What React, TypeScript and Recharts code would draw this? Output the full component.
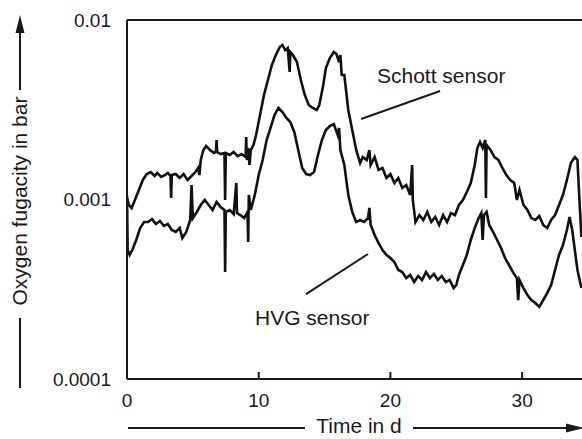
import React from "react";
import { LineChart, Line, XAxis, YAxis, ReferenceLine, ReferenceDot } from "recharts";

// Time in days
const schottTime = [
  0, 0.15, 0.35, 0.6, 0.9, 1.2, 1.5, 1.8, 2.1, 2.3, 2.6, 2.9, 3.1, 3.3, 3.35, 3.4, 3.7, 4.0, 4.3, 4.6, 4.9,
  5.2, 5.4, 5.5, 5.6, 5.8, 6.0, 6.3, 6.6, 6.75, 6.8, 6.85, 7.1, 7.4, 7.45, 7.5, 7.8, 8.1, 8.4, 8.7, 9.0,
  9.05, 9.1, 9.2, 9.3, 9.4, 9.6, 9.8, 10.1, 10.4, 10.7, 11.0, 11.3, 11.6, 11.8, 12.0, 12.2, 12.35, 12.4,
  12.6, 12.9, 13.2, 13.5, 13.8, 14.1, 14.4, 14.6, 14.9, 15.1, 15.4, 15.7, 15.9, 16.1, 16.2, 16.3, 16.5,
  16.8, 17.1, 17.4, 17.7, 17.9, 18.2, 18.4, 18.5, 18.8, 19.1, 19.4, 19.7, 20.0, 20.3, 20.6, 20.9, 21.2,
  21.5, 21.65, 21.7, 21.9, 22.2, 22.5, 22.8, 23.1, 23.4, 23.7, 24.0, 24.3, 24.6, 24.9, 25.2, 25.5, 25.8,
  26.1, 26.4, 26.6, 26.8, 27.0, 27.2, 27.25, 27.3, 27.6, 27.9, 28.2, 28.5, 28.8, 29.1, 29.4, 29.6, 29.8,
  30.1, 30.4, 30.7, 31.0, 31.3, 31.6, 31.9, 32.2, 32.5, 32.8, 33.1, 33.4, 33.7, 34.0, 34.2, 34.35, 34.5,
];
// Oxygen fugacity in bar (Schott sensor)
const schottValues = [
  0.00102, 0.000932, 0.000897, 0.000994, 0.00113, 0.001285, 0.001387, 0.001423, 0.001352, 0.001405, 0.001335,
  0.001369, 0.001405, 0.001352, 0.00102, 0.001369, 0.001387, 0.001318, 0.001387, 0.001285, 0.001352,
  0.001423, 0.001498, 0.001369, 0.00166, 0.001887, 0.001986, 0.001887, 0.001815, 0.001839, 0.002145, 0.001839,
  0.001792, 0.001815, 0.000994, 0.001815, 0.001769, 0.001839, 0.001746, 0.001792, 0.001724,
  0.002229, 0.00166, 0.001936, 0.001557, 0.001887, 0.002012, 0.002287, 0.002957, 0.003822, 0.004632, 0.005615,
  0.006383, 0.007072, 0.007257, 0.006806, 0.006982, 0.005132, 0.006634,
  0.006383, 0.005834, 0.004632, 0.003822, 0.003361, 0.003234, 0.003152, 0.003361, 0.004344, 0.005403,
  0.006141, 0.006634, 0.006466, 0.005834, 0.006383, 0.004938, 0.004938,
  0.003152, 0.002439, 0.001887, 0.001597, 0.001724, 0.00166, 0.001887, 0.001557, 0.001724, 0.00146,
  0.001498, 0.001318, 0.001387, 0.001236, 0.001318, 0.001159, 0.001205,
  0.00106, 0.001557, 0.000994, 0.000749, 0.000819, 0.000769, 0.000852, 0.000749, 0.000799, 0.000721,
  0.000819, 0.000749, 0.000841, 0.000819, 0.000932, 0.000994, 0.001101,
  0.001236, 0.001557, 0.001936, 0.002091, 0.001936, 0.002145, 0.00102, 0.002012, 0.001887, 0.001724,
  0.00166, 0.001498, 0.001369, 0.001285, 0.001236, 0.000994, 0.00113,
  0.000932, 0.000874, 0.000788, 0.000769, 0.000809, 0.000721, 0.000694, 0.000769, 0.000819, 0.000932,
  0.00106, 0.001285, 0.001597, 0.001724, 0.00166, 0.000994, 0.000618,
];

const hvgTime = [
  0, 0.05, 0.2, 0.4, 0.7, 1.0, 1.3, 1.6, 1.9, 2.2, 2.5, 2.8, 3.1, 3.4, 3.7, 4.0, 4.2, 4.5, 4.8, 4.9, 5.0,
  5.3, 5.6, 5.9, 6.2, 6.5, 6.8, 7.1, 7.4, 7.45, 7.5, 7.8, 8.1, 8.3, 8.35, 8.6, 8.9, 9.15, 9.2, 9.25, 9.4,
  9.7, 10.0, 10.3, 10.6, 10.9, 11.2, 11.5, 11.8, 12.1, 12.4, 12.7, 13.0, 13.3, 13.6, 13.9, 14.2, 14.5,
  14.8, 15.1, 15.4, 15.7, 16.0, 16.1, 16.2, 16.5, 16.8, 17.1, 17.4, 17.7, 18.0, 18.3, 18.4, 18.5, 18.8,
  19.1, 19.4, 19.7, 20.0, 20.3, 20.6, 20.9, 21.2, 21.5, 21.8, 22.1, 22.4, 22.7, 23.0, 23.3, 23.6, 23.9,
  24.2, 24.5, 24.8, 25.0, 25.2, 25.5, 25.8, 26.1, 26.4, 26.7, 26.9, 27.0, 27.1, 27.3, 27.5, 27.8, 28.1,
  28.4, 28.7, 29.0, 29.3, 29.6, 29.7, 29.8, 30.1, 30.4, 30.7, 31.0, 31.3, 31.6, 31.9, 32.2, 32.5, 32.8,
  33.1, 33.4, 33.6, 33.8, 34.0, 34.2, 34.5,
];
// Oxygen fugacity in bar (HVG sensor)
const hvgValues = [
  0.00106, 0.000523, 0.000491, 0.000523, 0.000595, 0.000694, 0.000749, 0.000749, 0.000778, 0.00073, 0.000759,
  0.000712, 0.00073, 0.000676, 0.000659, 0.000694, 0.00061, 0.000659, 0.000769, 0.001205, 0.000788,
  0.000852, 0.000932, 0.000994, 0.000932, 0.000874, 0.000968, 0.000908, 0.000874, 0.000394, 0.000852,
  0.000874, 0.00083, 0.001236, 0.000841, 0.000819, 0.000788, 0.000852, 0.00058, 0.00106, 0.000874,
  0.00106, 0.001369, 0.00166, 0.002145, 0.002503, 0.002957, 0.003234, 0.003073, 0.002845, 0.002703,
  0.002377, 0.001887, 0.001498, 0.001387, 0.001369, 0.001423, 0.001769,
  0.002145, 0.002439, 0.002568, 0.002634, 0.002287, 0.002503, 0.001887, 0.001557, 0.00106, 0.000852,
  0.000749, 0.000769, 0.000749, 0.000788, 0.000897, 0.000721, 0.000634,
  0.000572, 0.000523, 0.000491, 0.000472, 0.000448, 0.000405, 0.000394, 0.000365, 0.00038, 0.000347,
  0.000375, 0.000356, 0.000394, 0.000365, 0.000385, 0.000356, 0.000375,
  0.000347, 0.000356, 0.000321, 0.000334, 0.00038, 0.000432, 0.000491, 0.000595, 0.000694, 0.000788,
  0.000841, 0.000595, 0.000819, 0.000852, 0.000721, 0.000659, 0.000595,
  0.000537, 0.000472, 0.000432, 0.000394, 0.000365, 0.000275, 0.000356, 0.000321, 0.000294, 0.000275,
  0.000265, 0.000252, 0.000275, 0.000301, 0.000334, 0.000405, 0.000491,
  0.000558, 0.000676, 0.000799, 0.000676, 0.000523, 0.000405, 0.000321,
];

const xTicks = [0, 10, 20, 30];
const yTicks = [0.0001, 0.001, 0.01];
const yTickLabels = ["0.0001", "0.001", "0.01"];

const schottData = schottTime.map((t, i) => ({ t, v: schottValues[i] }));
const hvgData = hvgTime.map((t, i) => ({ t, v: hvgValues[i] }));

const FONT = '"Liberation Sans", Arial, Helvetica, sans-serif';
const INK = "#1a1a1a";
const Y_MIN = 0.0001;
const INNER_TICK_TOP = 0.0001094; // ~7px above the axis on the log scale

const textLabel = (text: string) => (props: any) => {
  const vb = props.viewBox || {};
  return (
    <text x={vb.x} y={vb.y} fontFamily={FONT} fontSize={21} fill={INK} textAnchor="start">
      {text}
    </text>
  );
};

const YTitle = () => (
  <g>
    <text
      transform="translate(27,201) rotate(-90)"
      textAnchor="middle"
      fontFamily={FONT}
      fontSize={21}
      fill={INK}
    >
      Oxygen fugacity in bar
    </text>
    <line x1={20} y1={318} x2={20} y2={388} stroke={INK} strokeWidth={2} />
    <line x1={20} y1={90} x2={20} y2={30} stroke={INK} strokeWidth={2} />
    <polygon points="15.5,33 20,15 24.5,33" fill={INK} />
  </g>
);

const XTitle = () => (
  <g>
    <text x={359} y={433} textAnchor="middle" fontFamily={FONT} fontSize={21} fill={INK}>
      Time in d
    </text>
    <line x1={128} y1={428} x2={305} y2={428} stroke={INK} strokeWidth={2} />
    <line x1={413} y1={428} x2={570} y2={428} stroke={INK} strokeWidth={2} />
    <polygon points="566,423.5 584,428 566,432.5" fill={INK} />
  </g>
);

export default function App() {
  return (
    <div
      style={{
        position: "fixed",
        left: 0,
        top: 0,
        width: 582,
        height: 439,
        overflow: "hidden",
        background: "#fff",
      }}
    >
      <LineChart width={600} height={439} margin={{ top: 20, right: 12, bottom: 0, left: 0 }}>
        <XAxis
          dataKey="t"
          type="number"
          domain={[0, 35]}
          ticks={xTicks}
          allowDataOverflow
          height={60}
          stroke={INK}
          strokeWidth={2}
          tickLine={false}
          tickSize={-7}
          tickMargin={22}
          tick={{ fill: INK, fontSize: 19, fontFamily: FONT }}
          label={{ content: XTitle }}
        />
        <YAxis
          dataKey="v"
          scale="log"
          type="number"
          domain={[0.0001, 0.01]}
          ticks={yTicks}
          allowDataOverflow
          width={127}
          stroke={INK}
          strokeWidth={2}
          tickLine={false}
          tickSize={0}
          tickMargin={16}
          tickFormatter={(v: number) => {
            const i = yTicks.findIndex((y) => Math.abs(y - v) / y < 1e-6);
            return i >= 0 ? yTickLabels[i] : "";
          }}
          tick={{ fill: INK, fontSize: 19, fontFamily: FONT }}
          label={{ content: YTitle }}
        />
        <ReferenceLine y={0.01} stroke={INK} strokeWidth={2} />
        {xTicks.slice(1).map((t) => (
          <ReferenceLine
            key={`tick-${t}`}
            segment={[
              { x: t, y: Y_MIN },
              { x: t, y: INNER_TICK_TOP },
            ]}
            stroke={INK}
            strokeWidth={2}
          />
        ))}
        <Line
          data={schottData}
          dataKey="v"
          type="linear"
          stroke="#111"
          strokeWidth={2.6}
          dot={false}
          isAnimationActive={false}
        />
        <Line
          data={hvgData}
          dataKey="v"
          type="linear"
          stroke="#111"
          strokeWidth={2.6}
          dot={false}
          isAnimationActive={false}
        />
        <ReferenceLine
          segment={[
            { x: 23.77, y: 0.00402 },
            { x: 17.77, y: 0.00281 },
          ]}
          stroke={INK}
          strokeWidth={2}
        />
        <ReferenceLine
          segment={[
            { x: 13.59, y: 0.000297 },
            { x: 18.3, y: 0.000497 },
          ]}
          stroke={INK}
          strokeWidth={2}
        />
        <ReferenceDot
          x={18.98}
          y={0.004457}
          r={0}
          fill="none"
          stroke="none"
          label={{ content: textLabel("Schott sensor") }}
        />
        <ReferenceDot
          x={9.72}
          y={0.0002}
          r={0}
          fill="none"
          stroke="none"
          label={{ content: textLabel("HVG sensor") }}
        />
      </LineChart>
    </div>
  );
}
